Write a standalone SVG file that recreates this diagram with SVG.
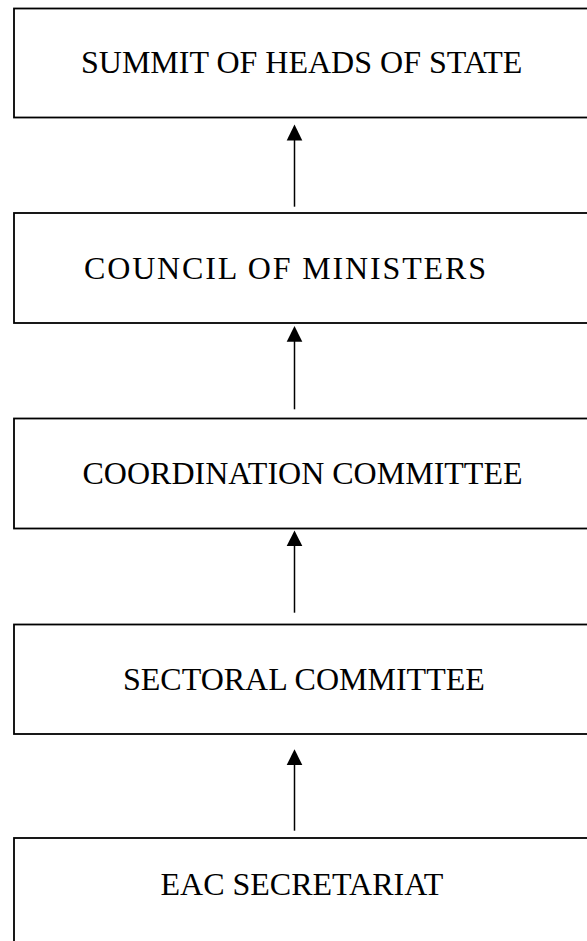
<svg xmlns="http://www.w3.org/2000/svg" width="587" height="941" viewBox="0 0 587 941">
<style>
.box{fill:#fff;stroke:#000;stroke-width:1.8}
.lbl{font-family:"Liberation Serif","Times New Roman",serif;font-size:32px;fill:#000}
.con{stroke:#000;stroke-width:1.5;fill:none}
.head{fill:#000}
</style>
<rect width="587" height="941" fill="#fff"/>
<g id="summit"><rect class="box" x="14" y="8.5" width="580" height="109"/><text class="lbl" x="81" y="73.3">SUMMIT OF HEADS OF STATE</text></g>
<g id="council"><rect class="box" x="14" y="213" width="580" height="110"/><text class="lbl" x="84" y="278.5" textLength="402" lengthAdjust="spacing">COUNCIL OF MINISTERS</text></g>
<g id="coordination"><rect class="box" x="14" y="418.5" width="580" height="110"/><text class="lbl" x="82.5" y="484">COORDINATION COMMITTEE</text></g>
<g id="sectoral"><rect class="box" x="14" y="624.5" width="580" height="109.5"/><text class="lbl" x="123" y="689.5">SECTORAL COMMITTEE</text></g>
<g id="secretariat"><rect class="box" x="14" y="838" width="580" height="110"/><text class="lbl" x="160.5" y="894.5">EAC SECRETARIAT</text></g>
<g id="connectors">
<line class="con" x1="294.5" y1="206.7" x2="294.5" y2="139"/><polygon class="head" points="294.5,124.5 286.7,140.5 302.3,140.5"/>
<line class="con" x1="294.5" y1="409.3" x2="294.5" y2="341"/><polygon class="head" points="294.5,326 286.7,341.7 302.3,341.7"/>
<line class="con" x1="294.5" y1="612.7" x2="294.5" y2="545"/><polygon class="head" points="294.5,530.5 286.7,546 302.3,546"/>
<line class="con" x1="294.5" y1="830.7" x2="294.5" y2="764"/><polygon class="head" points="294.5,749.3 286.7,765 302.3,765"/>
</g>
</svg>
